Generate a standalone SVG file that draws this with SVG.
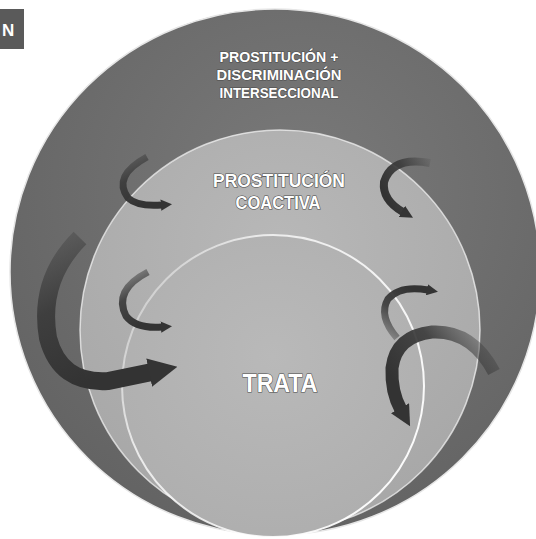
<svg xmlns="http://www.w3.org/2000/svg" width="536" height="539" viewBox="0 0 536 539">
  <style>
    .lbl { font-family: "Liberation Sans", Arial, sans-serif; font-weight: bold; fill: #ffffff; text-anchor: middle; paint-order: stroke; stroke: #4a4a4a; stroke-width: 1.2px; }
    .arrow { fill: none; stroke-linecap: butt; }
  </style>
  <defs>
    <radialGradient id="gOuter" cx="0.55" cy="0.35" r="0.7">
      <stop offset="0" stop-color="#7a7a7a"/>
      <stop offset="1" stop-color="#626262"/>
    </radialGradient>
    <radialGradient id="gMid" cx="0.5" cy="0.3" r="0.75">
      <stop offset="0" stop-color="#b8b8b8"/>
      <stop offset="1" stop-color="#a6a6a6"/>
    </radialGradient>
    <radialGradient id="gInner" cx="0.5" cy="0.4" r="0.7">
      <stop offset="0" stop-color="#b9b9b9"/>
      <stop offset="1" stop-color="#adadad"/>
    </radialGradient>
    <linearGradient id="gInnerEdge" x1="0" y1="0" x2="1" y2="0.6">
      <stop offset="0" stop-color="#ffffff" stop-opacity="0.15"/>
      <stop offset="0.35" stop-color="#ffffff" stop-opacity="0.75"/>
      <stop offset="1" stop-color="#ffffff" stop-opacity="0.95"/>
    </linearGradient>
    <linearGradient id="gArrowDown" x1="0" y1="0" x2="0.4" y2="1">
      <stop offset="0" stop-color="#3a3a3a" stop-opacity="0.25"/>
      <stop offset="0.45" stop-color="#3a3a3a" stop-opacity="0.9"/>
      <stop offset="1" stop-color="#333333"/>
    </linearGradient>
    <linearGradient id="gArrowLeft" x1="1" y1="0" x2="0" y2="0.6">
      <stop offset="0" stop-color="#3a3a3a" stop-opacity="0.15"/>
      <stop offset="0.5" stop-color="#3a3a3a" stop-opacity="0.9"/>
      <stop offset="1" stop-color="#333333"/>
    </linearGradient>
    <linearGradient id="gArrowUp" x1="0" y1="1" x2="0.6" y2="0">
      <stop offset="0" stop-color="#3a3a3a" stop-opacity="0.3"/>
      <stop offset="0.5" stop-color="#3a3a3a" stop-opacity="0.9"/>
      <stop offset="1" stop-color="#333333"/>
    </linearGradient>
    <marker id="head" viewBox="0 0 10 10" refX="1" refY="5" markerWidth="1.6" markerHeight="1.6" markerUnits="strokeWidth" orient="auto">
      <path d="M0,0 L10,5 L0,10 z" fill="#343434"/>
    </marker>
  </defs>

  <rect width="536" height="539" fill="#ffffff"/>

  <g id="node-tab">
    <rect x="0" y="9" width="24" height="40" fill="#5a5a5a"/>
    <text x="2" y="36" font-family="Liberation Sans, Arial, sans-serif" font-weight="bold" font-size="17" fill="#ffffff">N</text>
  </g>

  <g id="node-outer">
    <ellipse cx="275" cy="272" rx="265" ry="263" fill="url(#gOuter)" stroke="#e6e6e6" stroke-width="1.5"/>
    <text class="lbl" x="279" y="62" font-size="15" textLength="119" lengthAdjust="spacingAndGlyphs">PROSTITUCIÓN +</text>
    <text class="lbl" x="279" y="80" font-size="15" textLength="125" lengthAdjust="spacingAndGlyphs">DISCRIMINACIÓN</text>
    <text class="lbl" x="279" y="98" font-size="15" textLength="119" lengthAdjust="spacingAndGlyphs">INTERSECCIONAL</text>
  </g>

  <g id="node-middle">
    <circle cx="280" cy="330" r="200" fill="url(#gMid)" stroke="#f2f2f2" stroke-opacity="0.75" stroke-width="1.5"/>
    <text class="lbl" x="279" y="187" font-size="18" textLength="132" lengthAdjust="spacingAndGlyphs">PROSTITUCIÓN</text>
    <text class="lbl" x="278" y="209" font-size="18" textLength="85" lengthAdjust="spacingAndGlyphs">COACTIVA</text>
  </g>

  <g id="node-inner">
    <circle cx="273" cy="386" r="151" fill="url(#gInner)" stroke="url(#gInnerEdge)" stroke-width="2"/>
    <text class="lbl" x="280" y="392" font-size="26" textLength="75" lengthAdjust="spacingAndGlyphs">TRATA</text>
  </g>

  <g id="connectors">
    <path class="arrow" d="M147,157 Q112,176 128,198 Q138,207 162,205" stroke="url(#gArrowDown)" stroke-width="7" marker-end="url(#head)"/>
    <path class="arrow" d="M430,163 Q392,156 384,182 Q382,200 403,212" stroke="url(#gArrowLeft)" stroke-width="8" marker-end="url(#head)"/>
    <path class="arrow" d="M148,272 Q113,290 126,316 Q136,329 162,327" stroke="url(#gArrowDown)" stroke-width="7" marker-end="url(#head)"/>
    <path class="arrow" d="M80,238 Q38,280 48,338 Q60,384 108,381 L152,372" stroke="url(#gArrowDown)" stroke-width="18" marker-end="url(#head)"/>
    <path class="arrow" d="M397,338 Q378,316 388,299 Q400,285 428,290" stroke="url(#gArrowUp)" stroke-width="7" marker-end="url(#head)"/>
    <path class="arrow" d="M494,372 Q472,330 432,332 Q396,336 392,368 Q391,392 401,410" stroke="url(#gArrowLeft)" stroke-width="13" marker-end="url(#head)"/>
  </g>
</svg>
